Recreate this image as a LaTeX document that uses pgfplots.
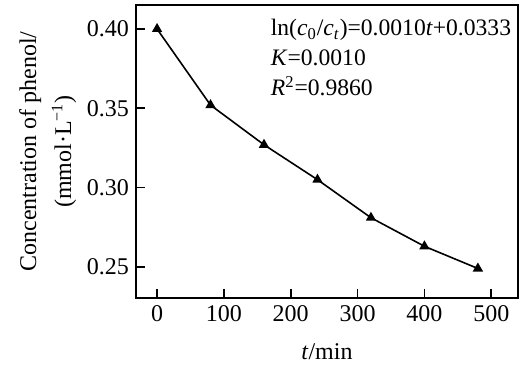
\documentclass[border=0pt]{standalone}
\usepackage{pgfplots}
\pgfplotsset{compat=1.18}
\usepackage{fontspec}
\setmainfont{Liberation Serif}
\begin{document}
\begin{tikzpicture}
\begin{axis}[
  scale only axis,
  width=191pt, height=146.5pt,
  xmin=-31.5, xmax=540,
  ymin=0.2304, ymax=0.4151,
  xtick={0,100,...,500},
  ytick={0.25,0.30,0.35,0.40},
  yticklabel style={/pgf/number format/.cd,fixed,fixed zerofill,precision=2},
  /pgf/number format/assume math mode=true,
  tick align=inside,
  xtick pos=bottom, ytick pos=left,
  major tick length=4.5pt,
  axis line style={line width=0.9pt},
  tick style={line width=0.8pt, black},
  every tick label/.append style={font=\fontsize{12}{13}\selectfont},
  xlabel={\textit{t}/min},
  xlabel style={font=\fontsize{12}{13}\selectfont, yshift=-4.5pt},
  ylabel={Concentration of phenol/\\(mmol·L\textsuperscript{−1})},
  ylabel style={align=center, font=\fontsize{12}{17.5}\selectfont, yshift=-1.5pt},
]
\addplot[black, line width=0.8pt, mark=triangle*, mark size=2.2pt, mark options={solid}]
  coordinates {(0,0.400) (80,0.352) (160,0.327) (240,0.305) (320,0.281) (400,0.263) (480,0.249)};
\node[anchor=north west, inner sep=0pt, align=left, font=\fontsize{11.8}{15}\selectfont]
  at (rel axis cs:0.352,0.952)
  {ln(\textit{c}\textsubscript{0}/\textit{c}\textsubscript{\textit{t}})=0.0010\textit{t}+0.0333\\
   \textit{K}=0.0010\\
   \textit{R}\textsuperscript{2}=0.9860};
\end{axis}
\pgfresetboundingbox
\path (current axis.south west) ++(-68pt,-34.5pt) coordinate (bbA);
\path (current axis.north east) ++(4pt,2.5pt) coordinate (bbB);
\useasboundingbox (bbA) rectangle (bbB);
\end{tikzpicture}
\end{document}
